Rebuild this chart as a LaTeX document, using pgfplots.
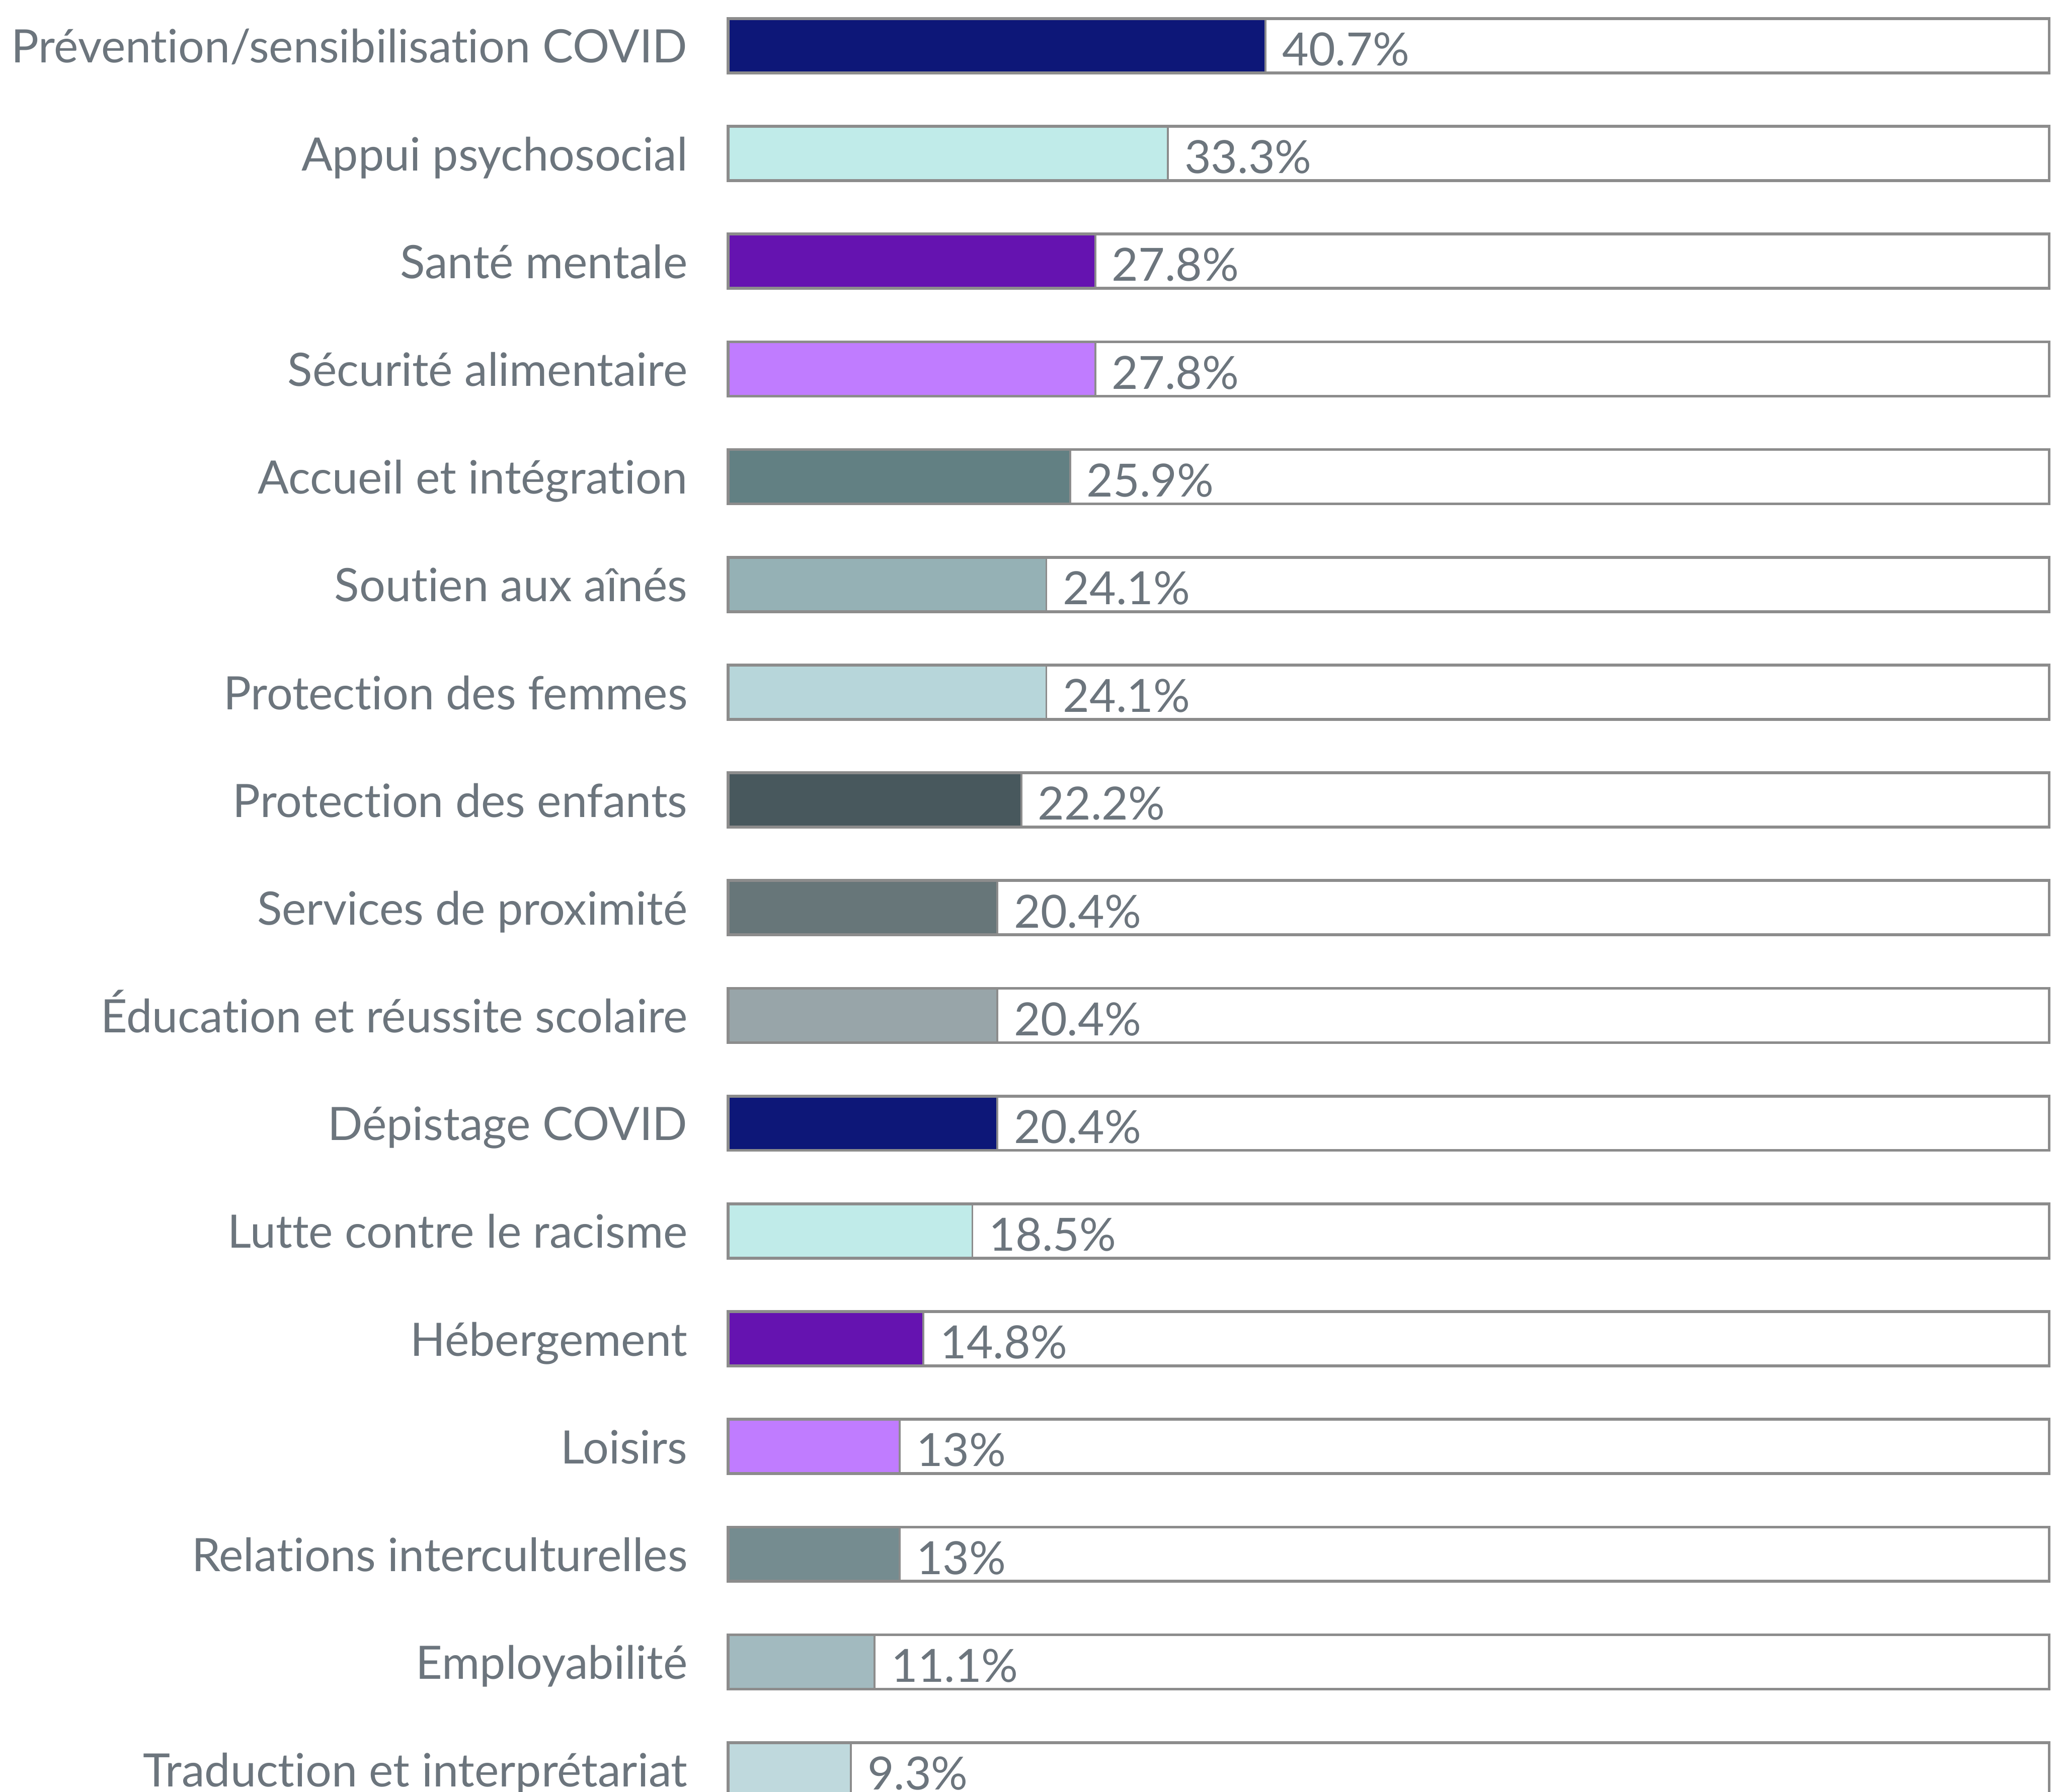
\documentclass[border=0pt]{standalone}
\usepackage{fontspec}
\setmainfont{Lato}[Ligatures={NoCommon}]
\usepackage{pgfplots}
\pgfplotsset{compat=1.18}
\definecolor{txt}{HTML}{6C757D}
\definecolor{stk}{HTML}{8C8C8C}
\definecolor{cA}{HTML}{0D1778}
\definecolor{cB}{HTML}{C0EBE9}
\definecolor{cC}{HTML}{6513B0}
\definecolor{cD}{HTML}{C07CFF}
\definecolor{cE}{HTML}{628083}
\definecolor{cF}{HTML}{95B1B5}
\definecolor{cG}{HTML}{B7D6DA}
\definecolor{cH}{HTML}{48585D}
\definecolor{cI}{HTML}{677679}
\definecolor{cJ}{HTML}{98A5A9}
\definecolor{cO}{HTML}{758C90}
\definecolor{cP}{HTML}{A2BABF}
\definecolor{cQ}{HTML}{BFD9DD}
\pgfplotsset{
  val/.style={draw=stk, line width=0.4pt, fill=#1, point meta=x,
    nodes near coords={\pgfmathprintnumber{\pgfplotspointmeta}\%},
    every node near coord/.style={anchor=base west, inner sep=0pt, xshift=3.3pt, yshift=-4.2pt, text=txt, font=\fontsize{9.6}{11.5}\selectfont}}
}
\begin{document}
\begin{tikzpicture}
\begin{axis}[
  xbar, scale only axis, width=277.3pt, height=376.2pt,
  xmin=0, xmax=100, ymin=-0.4244, ymax=16.207, y dir=reverse,
  axis line style={draw=none}, xtick=\empty,
  ytick={0,...,16}, major tick length=0pt,
  yticklabels={Prévention/sensibilisation COVID, Appui psychosocial, Santé mentale, Sécurité alimentaire, Accueil et intégration, Soutien aux aînés, Protection des femmes, Protection des enfants, Services de proximité, Éducation et réussite scolaire, Dépistage COVID, Lutte contre le racisme, Hébergement, Loisirs, Relations interculturelles, Employabilité, Traduction et interprétariat},
  yticklabel style={anchor=base east, inner sep=0pt, xshift=-8.3pt, yshift=-3.6pt, text=txt, font=\fontsize{9.66}{11.5}\selectfont},
  bar width=11.4pt, bar shift=0pt, clip=false,
  /pgf/number format/.cd, precision=1, assume math mode=true,
]
\addplot[val=cA] coordinates {(40.7,0)};
\addplot[val=cB] coordinates {(33.3,1)};
\addplot[val=cC] coordinates {(27.8,2)};
\addplot[val=cD] coordinates {(27.8,3)};
\addplot[val=cE] coordinates {(25.9,4)};
\addplot[val=cF] coordinates {(24.1,5)};
\addplot[val=cG] coordinates {(24.1,6)};
\addplot[val=cH] coordinates {(22.2,7)};
\addplot[val=cI] coordinates {(20.4,8)};
\addplot[val=cJ] coordinates {(20.4,9)};
\addplot[val=cA] coordinates {(20.4,10)};
\addplot[val=cB] coordinates {(18.5,11)};
\addplot[val=cC] coordinates {(14.8,12)};
\addplot[val=cD] coordinates {(13,13)};
\addplot[val=cO] coordinates {(13,14)};
\addplot[val=cP] coordinates {(11.1,15)};
\addplot[val=cQ] coordinates {(9.3,16)};
\addplot[draw=stk, fill=none, line width=0.6pt] coordinates {(100,0) (100,1) (100,2) (100,3) (100,4) (100,5) (100,6) (100,7) (100,8) (100,9) (100,10) (100,11) (100,12) (100,13) (100,14) (100,15) (100,16)};
\end{axis}
\pgfresetboundingbox
\useasboundingbox (-152.8pt,0pt) rectangle (279.8pt,376.2pt);
\end{tikzpicture}
\end{document}
